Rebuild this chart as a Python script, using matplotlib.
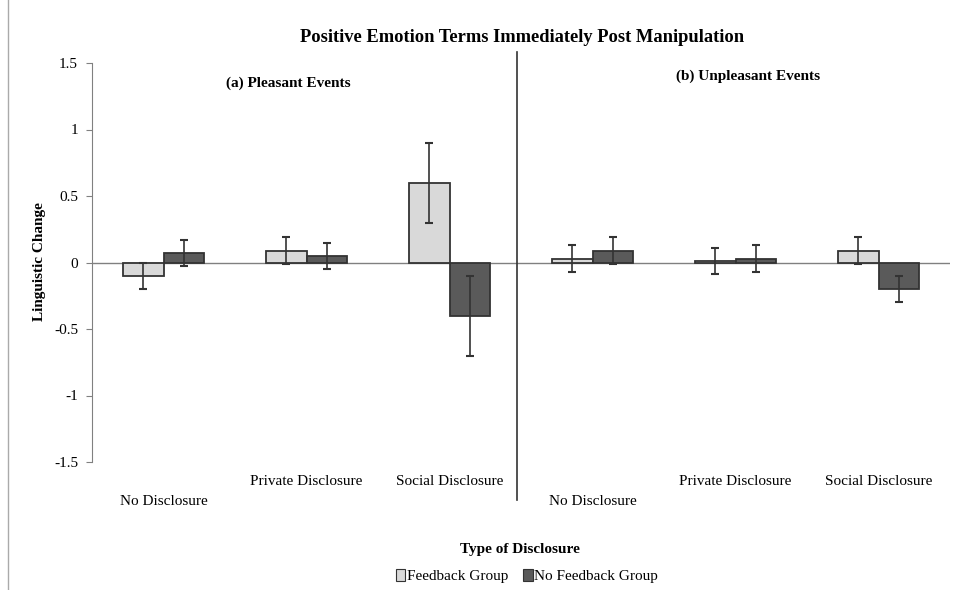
import numpy as np
import matplotlib
matplotlib.use("Agg")
import matplotlib.pyplot as plt
import matplotlib.transforms as mtransforms

plt.rcParams['font.family'] = ['Liberation Serif', 'DejaVu Serif']

groups = ["No Disclosure", "Private Disclosure", "Social Disclosure",
          "No Disclosure", "Private Disclosure", "Social Disclosure"]
feedback = [-0.10, 0.09, 0.60, 0.03, 0.01, 0.09]
no_feedback = [0.07, 0.05, -0.40, 0.09, 0.03, -0.20]
feedback_err = [0.10, 0.10, 0.30, 0.10, 0.10, 0.10]
no_feedback_err = [0.10, 0.10, 0.30, 0.10, 0.10, 0.10]
yticks = [-1.5, -1, -0.5, 0, 0.5, 1, 1.5]

fig = plt.figure(figsize=(9.58, 5.9), dpi=100)
ax = fig.add_axes([92/958, 1 - 462/590, (950 - 92)/958, (462 - 63)/590])

x = np.arange(len(groups))
w = 0.285
ekw = dict(ecolor='#333333', elinewidth=1.2, capsize=3, capthick=1.5)
ax.bar(x - w/2, feedback, w, color='#d9d9d9', edgecolor='#333333', linewidth=1.3,
       yerr=feedback_err, error_kw=ekw, label='Feedback Group', zorder=2)
ax.bar(x + w/2, no_feedback, w, color='#5a5a5a', edgecolor='#333333', linewidth=1.3,
       yerr=no_feedback_err, error_kw=ekw, label='No Feedback Group', zorder=2)

ax.axhline(0, color='#808080', linewidth=1.0, zorder=1)
ax.set_xlim(-0.5, 5.5)
ax.set_ylim(-1.5, 1.5)
ax.set_yticks(yticks)
ax.set_yticklabels([f"{v:g}" for v in yticks], fontsize=11)
ax.tick_params(axis='y', direction='out', length=4, color='#808080', pad=6)
ax.set_xticks([])
for s in ['top', 'right', 'bottom']:
    ax.spines[s].set_visible(False)
ax.spines['left'].set_color('#808080')

# divider between panels
trans = mtransforms.blended_transform_factory(ax.transData, ax.transAxes)
ax.plot([2.475, 2.475], [-0.095, 1.028], color='#333333', linewidth=1.2,
        transform=trans, clip_on=False)

# category labels (staggered as in the original)
for i, g in enumerate(groups):
    ypos = -0.1 if g == "No Disclosure" else -0.05
    ax.text(i, ypos, g, transform=trans, ha='center', va='center', fontsize=11)

ax.text(0.87, 1.5 - 0.15, "(a) Pleasant Events", fontsize=11, fontweight='bold',
        ha='center', va='center')
ax.text(4.09, 1.5 - 0.1, "(b) Unpleasant Events", fontsize=11, fontweight='bold',
        ha='center', va='center')

fig.text(522/958, 1 - 38/590, "Positive Emotion Terms Immediately Post Manipulation",
         fontsize=13.3, fontweight='bold', ha='center', va='center')
fig.text(40/958, 1 - 262/590, "Linguistic Change", fontsize=11, fontweight='bold',
         rotation=90, ha='center', va='center')
fig.text(520/958, 1 - 549/590, "Type of Disclosure", fontsize=11, fontweight='bold',
         ha='center', va='center')

leg = fig.legend(loc='center', bbox_to_anchor=(527/958, 1 - 576/590), ncol=2,
                 frameon=False, fontsize=11, handlelength=0.6, handleheight=0.8,
                 handletextpad=0.1, columnspacing=1.0)
for p in leg.get_patches():
    p.set_linewidth(0.8)

fig.add_artist(plt.Line2D([8/958, 8/958], [0, 1], color='#aaaaaa', linewidth=1.0,
                          transform=fig.transFigure))

fig.savefig("out.png", dpi=100)
